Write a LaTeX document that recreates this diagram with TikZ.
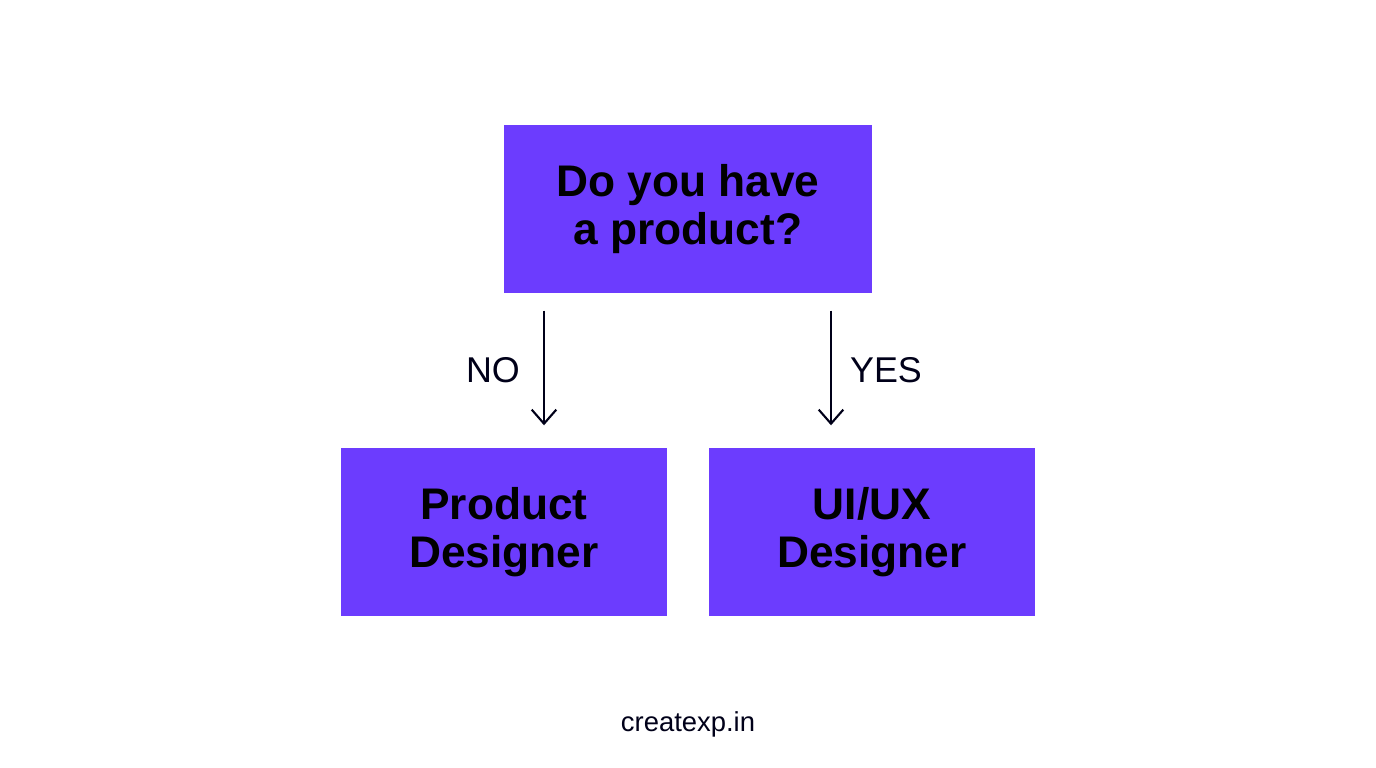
\documentclass[tikz,border=0pt]{standalone}
\usepackage{fontspec}
\setmainfont{Liberation Sans}
\usetikzlibrary{arrows.meta,positioning,calc}
\definecolor{boxviolet}{HTML}{6C3CFE}
\tikzset{
  choice/.style={fill=boxviolet, minimum width=3.26cm, minimum height=1.68cm, align=center,
    font=\fontsize{12.6}{13.7}\selectfont\bfseries},
  flow/.style={-{Straight Barb[length=4pt,width=7pt]}, line width=0.6pt, black!90!blue},
  answer/.style={font=\fontsize{10.2}{12}\selectfont, text=black!90!blue}
}
\begin{document}
\begin{tikzpicture}
\useasboundingbox[fill=white] (0,0) rectangle (13.76,7.68);
% question and the two outcomes
\node[choice, minimum width=3.68cm] (ask) at (6.88,5.59) {Do you have\\a product?};
\node[choice] (prod) at (5.04,2.36) {Product\\Designer};
\node[choice] (uiux) at (8.72,2.36) {UI/UX\\Designer};
% arrows
\coordinate (noA) at (5.44,6.58);
\coordinate (yesA) at (8.31,6.58);
\draw[flow] ($(noA |- ask.south)+(0,-0.17)$) -- ($(noA |- prod.north)+(0,0.22)$);
\draw[flow] ($(yesA |- ask.south)+(0,-0.17)$) -- ($(yesA |- uiux.north)+(0,0.22)$);
\node[answer] (no) at (4.93,3.98) {NO};
\node[answer] (yes) at (8.86,3.98) {YES};
% footer
\node[font=\fontsize{7.8}{10}\selectfont, text=black!90!blue] (site) at (6.88,0.44) {createxp.in};
\end{tikzpicture}
\end{document}
